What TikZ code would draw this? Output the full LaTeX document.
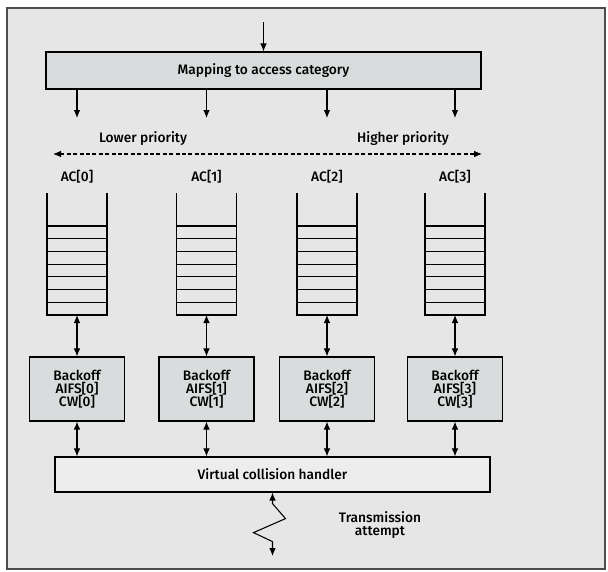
\documentclass[tikz,border=0pt]{standalone}
\usepackage{fontspec}
\setmainfont{Fira Sans}[BoldFont={Fira Sans Medium}]
\usetikzlibrary{arrows.meta}
\definecolor{hgrund}{HTML}{E6E6E6}
\definecolor{kastengrau}{HTML}{D8DCDC}
\definecolor{hellgrau}{HTML}{EDEDED}

\begin{document}
\begin{tikzpicture}[x=0.75pt, y=-0.75pt,
				>={Latex[length=6pt, width=5pt]},   %Pfeilspitzen
				font=\bfseries\fontsize{10.3}{10}\selectfont,
				box/.style={draw, line width=0.9pt, fill=kastengrau, inner sep=0pt, align=center},
				queue/.style={line width=0.8pt},
				pfeil/.style={->, line width=0.8pt},
				doppel/.style={<->, line width=0.8pt}]
				%Rahmen und Hintergrund
				\useasboundingbox (0,0) rectangle (608,572);
				\draw[fill=hgrund, draw=black!70, line width=0.8pt] (7,8) rectangle (605,569);
				%Kasten oben
				\node[box, minimum width=326.25pt, minimum height=27.75pt] (map) at (263.5,70.5) {Mapping to access category};
				\coordinate (ein) at (263.5,22);
				\draw[pfeil] (ein) -- (map.north);
				%Prioritaeten
				\node (low) at (143,139) {Lower priority};
				\node (high) at (403,139) {Higher priority};
				\coordinate (pl) at (53,154);
				\coordinate (pr) at (482,154);
				\draw[<->, line width=0.8pt, dash pattern=on 3pt off 1.8pt] (pl) -- (pr);
				%Kasten unten
				\node[box, fill=hellgrau, minimum width=326.25pt, minimum height=26.25pt] (vch) at (272.5,474.5) {Virtual collision handler};
				%Warteschlangen und Backoff
				\foreach \x [count=\i from 0] in {77,206.5,327,455} {
					\coordinate (e\i) at (\x,118);
					\draw[pfeil] (map.south -| e\i) -- (e\i);
					\node (ac\i) at (\x,177) {AC[\i]};
					\draw[queue] (\x-30,193) |- (\x+30,315) -- (\x+30,193);
					\foreach \k in {0,...,6} \draw[queue] (\x-30,226+\k*12.7) -- ++(60,0);
					\coordinate (q\i) at (\x,315);
					\node[box, minimum width=71.25pt, minimum height=48pt] (b\i) at (\x,389) {Backoff\\AIFS[\i]\\CW[\i]};
					\draw[doppel] (q\i) -- (b\i.north);
					\draw[doppel] (b\i.south) -- (b\i.south |- vch.north);
				}
				%Sendeversuch
				\coordinate (aus) at (272.5,556);
				\draw[doppel] (vch.south) -- ++(0,11) -- ++(13,15) -- ++(-32,14) -- ++(19,9) -- (aus);
				\node[align=center] (ta) at (380,525) {Transmission\\attempt};
			\end{tikzpicture}
\end{document}
